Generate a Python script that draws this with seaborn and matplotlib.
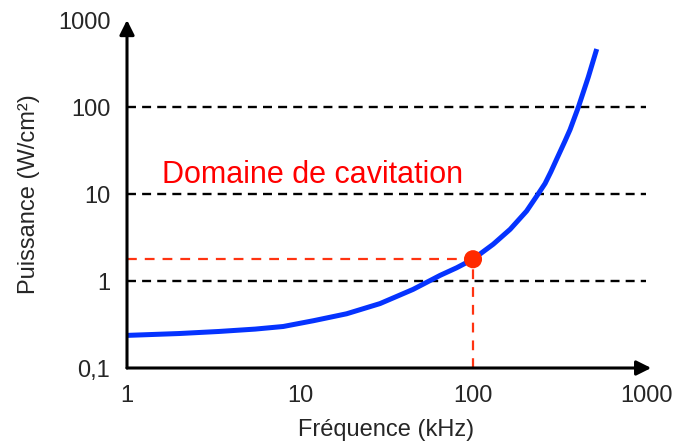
import matplotlib
matplotlib.use("Agg")
import matplotlib.pyplot as plt
import seaborn as sns

# valeurs
freq = [1, 2, 3.4, 5.5, 8, 12, 18.6, 29, 45, 64.5, 80.5, 100, 131, 164, 204,
        238, 261, 282, 306, 340, 364, 406, 464, 519]
power = [0.237, 0.249, 0.263, 0.28, 0.30, 0.35, 0.42, 0.55, 0.80, 1.16, 1.42,
         1.78, 2.65, 3.93, 6.36, 10, 13.2, 18, 25.7, 40.5, 55, 99, 221, 464]
ref_levels = [1, 10, 100]
point_freq = [100]
point_power = [1.78]
xticks = [1, 10, 100, 1000]
xticklabels = ["1", "10", "100", "1000"]
yticks = [0.1, 1, 10, 100, 1000]
yticklabels = ["0,1", "1", "10", "100", "1000"]

sns.set_style("white")
plt.rcParams['font.family'] = ['Liberation Sans', 'DejaVu Sans']

fig = plt.figure(figsize=(6.78, 4.44), dpi=100)
ax = fig.add_axes([127 / 678, 1 - 368 / 444, (646 - 127) / 678, (368 - 20) / 444])
ax.set_xscale("log")
ax.set_yscale("log")
ax.set_xlim(1, 1000)
ax.set_ylim(0.1, 1000)

# lignes de référence
ax.hlines(ref_levels, xmin=1, xmax=1000, colors="black", linewidth=1.7,
          linestyles=(0, (3.8, 2.6)), zorder=1)

# point de fonctionnement
ax.plot([1, point_freq[0]], [point_power[0], point_power[0]], color="#ff3311",
        linewidth=1.6, dashes=(4.4, 3.6), zorder=2)
ax.plot([point_freq[0], point_freq[0]], [0.1, point_power[0]], color="#ff3311",
        linewidth=1.6, dashes=(4.4, 3.6), zorder=2)

sns.lineplot(x=freq, y=power, color="#0533ff", linewidth=3.6, ax=ax, zorder=3,
             solid_joinstyle="round", solid_capstyle="butt")
sns.scatterplot(x=point_freq, y=point_power, color="#ff2a00", s=170,
                edgecolor="none", ax=ax, zorder=4)

ax.text(11.8, 16.5, "Domaine de cavitation", color="red", fontsize=22,
        ha="center", va="center")

# axes avec flèches
for s in ax.spines.values():
    s.set_visible(False)
ax.annotate("", xy=(1.01, 0), xytext=(0, 0), xycoords="axes fraction",
            arrowprops=dict(arrowstyle="-|>", color="black", lw=2.2,
                            mutation_scale=22, shrinkA=0, shrinkB=0))
ax.annotate("", xy=(0, 1.0), xytext=(0, 0), xycoords="axes fraction",
            arrowprops=dict(arrowstyle="-|>", color="black", lw=2.2,
                            mutation_scale=22, shrinkA=0, shrinkB=0))

ax.set_xticks(xticks)
ax.set_xticklabels(xticklabels)
ax.set_yticks(yticks)
ax.set_yticklabels(yticklabels)
ax.minorticks_off()
ax.tick_params(axis="x", length=0, pad=12, labelsize=17)
ax.tick_params(axis="y", length=0, pad=12, labelsize=17)

ax.set_xlabel("Fréquence (kHz)", fontsize=17, labelpad=9)
ax.set_ylabel("Puissance (W/cm²)", fontsize=17, labelpad=13)

fig.savefig("out.png", dpi=100)
